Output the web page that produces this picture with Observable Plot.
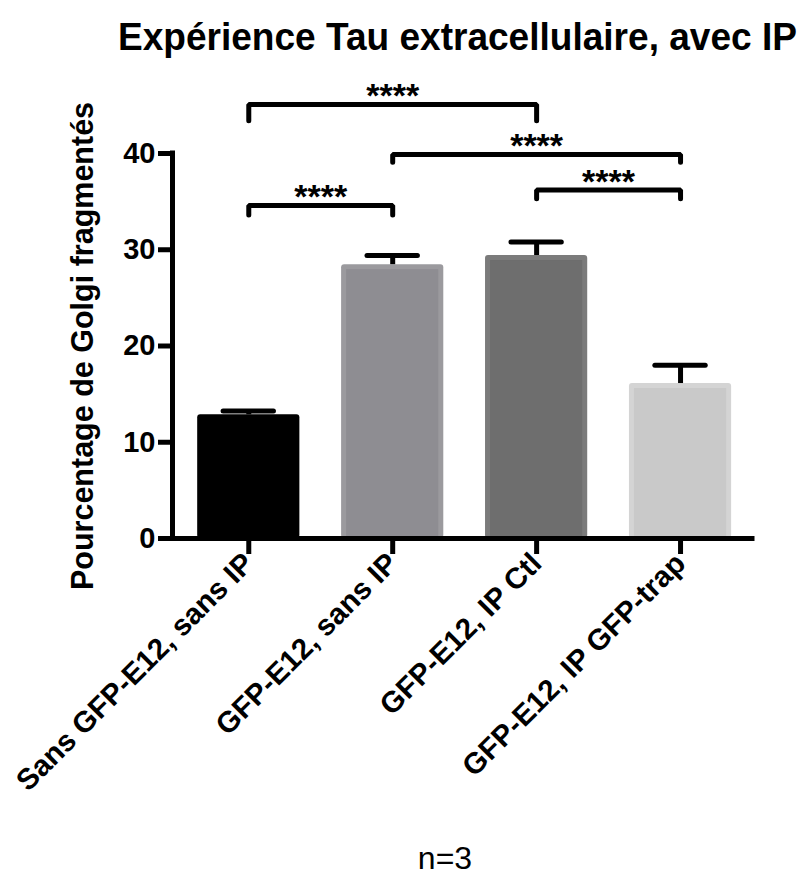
<!DOCTYPE html>
<html>
<head>
<meta charset="utf-8">
<script src="https://cdn.jsdelivr.net/npm/d3@7"></script>
<script src="https://cdn.jsdelivr.net/npm/@observablehq/plot@0.6"></script>
<style>
  html, body { margin: 0; padding: 0; background: #fff; }
  #wrap { position: relative; width: 804px; height: 877px; overflow: hidden; font-family: "Liberation Sans", Arial, Helvetica, sans-serif; }
  #title { position: absolute; left: 118px; top: 17px; font-size: 39px; line-height: 39px; font-weight: bold; white-space: nowrap; color: #000; transform: scaleX(0.95); transform-origin: left top; }
  #caption { position: absolute; left: 0; top: 844px; width: 890px; text-align: center; font-size: 32px; line-height: 28px; color: #000; }
  #chart { position: absolute; left: 0; top: 0; }
</style>
</head>
<body>
<div id="wrap">
  <div id="chart"></div>
  <div id="title">Expérience Tau extracellulaire, avec IP</div>
  <div id="caption">n=3</div>
</div>
<script>
const categories = ["Sans GFP-E12, sans IP", "GFP-E12, sans IP", "GFP-E12, IP Ctl", "GFP-E12, IP GFP-trap"];
const means = [12.85, 28.45, 29.4, 16.1];
const sems = [0.4, 0.95, 1.4, 1.9];
const fills = ["#000000", "#8e8d92", "#6e6e6e", "#c9c9c9"];
const borders = ["#000000", "#9b9a9e", "#7b7b7b", "#d4d4d4"];
const yTicks = [0, 10, 20, 30, 40];
const yLabel = "Pourcentage de Golgi fragmentés";
// significance comparisons: from/to are category indices, level = bracket height, leg = bottom of legs
const cmpFrom = [0, 1, 2, 0];
const cmpTo = [2, 3, 3, 1];
const cmpLevel = [45.1, 39.9, 36.2, 34.6];
const cmpLeg = [43.4, 39.1, 35.3, 33.6];
const cmpLabel = ["****", "****", "****", "****"];

const xDomain = [-0.53, 3.5];
const halfBar = 0.355;
const halfCap = 0.175;

const rows = categories.map((c, i) => ({i, c, mean: means[i], sem: sems[i], fill: fills[i], border: borders[i]}));
const bracketPts = [];
cmpFrom.forEach((f, k) => {
  const t = cmpTo[k];
  bracketPts.push({k, x: f, y: cmpLeg[k]}, {k, x: f, y: cmpLevel[k]}, {k, x: t, y: cmpLevel[k]}, {k, x: t, y: cmpLeg[k]});
});
const labels = cmpFrom.map((f, k) => ({x: (f + cmpTo[k]) / 2, y: cmpLevel[k], t: cmpLabel[k]}));

const chart = Plot.plot({
  width: 804,
  height: 877,
  marginLeft: 172,
  marginRight: 52,
  marginTop: 153,
  marginBottom: 339,
  style: {fontFamily: "'Liberation Sans', Arial, Helvetica, sans-serif", color: "#000", background: "transparent"},
  x: {domain: xDomain, axis: null},
  y: {domain: [0, 40], axis: null},
  marks: [
    Plot.rectY(rows, {x1: d => d.i - halfBar, x2: d => d.i + halfBar, y1: 0, y2: "mean", fill: "border", rx: 3}),
    Plot.rectY(rows, {x1: d => d.i - halfBar, x2: d => d.i + halfBar, y1: 0, y2: "mean", fill: "fill", insetLeft: 5, insetRight: 5, insetTop: 5}),
    Plot.ruleX(rows, {x: "i", y1: "mean", y2: d => d.mean + d.sem, stroke: "#000", strokeWidth: 5}),
    Plot.ruleY(rows, {x1: d => d.i - halfCap, x2: d => d.i + halfCap, y: d => d.mean + d.sem, stroke: "#000", strokeWidth: 5, strokeLinecap: "round"}),
    Plot.line(bracketPts, {x: "x", y: "y", z: "k", stroke: "#000", strokeWidth: 5, strokeLinecap: "round", strokeLinejoin: "miter"}),
    Plot.text(labels, {x: "x", y: "y", text: "t", fontSize: 34, fontWeight: "bold", lineAnchor: "bottom", dy: 3, fill: "#000"}),
    Plot.ruleY([0], {stroke: "#000", strokeWidth: 5, strokeLinecap: "square"}),
    Plot.ruleX([xDomain[0]], {y1: 0, y2: 40, stroke: "#000", strokeWidth: 5, strokeLinecap: "square"}),
    Plot.axisY({ticks: yTicks, tickSize: 14, tickPadding: 3, fontSize: 29, fontWeight: "bold", strokeWidth: 5, label: null}),
    Plot.axisY({ticks: [], tickSize: 0, fontSize: 30.5, fontWeight: "bold", label: yLabel, labelAnchor: "center", labelArrow: "none", labelOffset: 101}),
    Plot.axisX({ticks: [0, 1, 2, 3], tickFormat: i => categories[i], tickRotate: -45, tickSize: 16, tickPadding: 4, fontSize: 29.5, fontWeight: "bold", strokeWidth: 5, label: null})
  ]
});
document.getElementById("chart").appendChild(chart);
</script>
</body>
</html>
